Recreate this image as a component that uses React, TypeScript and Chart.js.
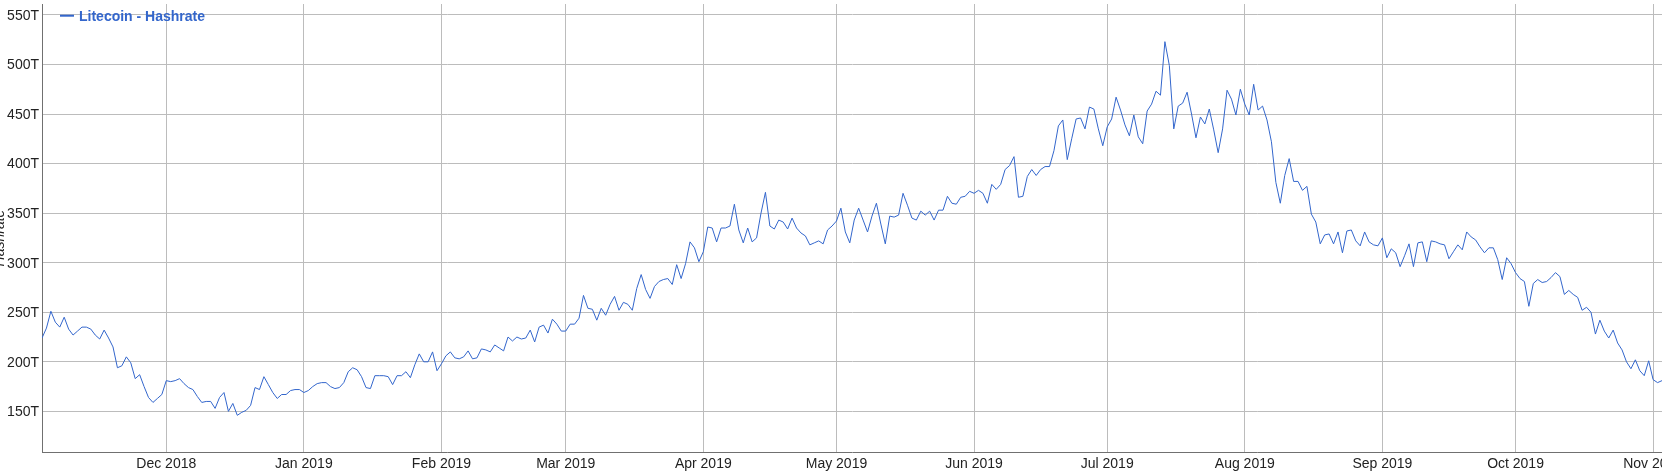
import { useEffect, useRef } from 'react';
import { Chart, registerables } from 'chart.js';

Chart.register(...registerables);

const seriesLabel = 'Litecoin - Hashrate';
const axisTitle = 'Hashrate';
const lineColor = '#3366cc';
const fontFamily = 'Arial, "Liberation Sans", sans-serif';

// one value per day (TH/s), starting at startDate
const startDate = '2018-11-03';
const hashrate = [
  224, 234, 251, 240, 235, 245, 233, 227, 231, 235, 235, 233, 227, 223, 232, 224, 215, 194, 196, 205,
  199, 183, 187, 175, 164, 159, 163, 167, 181, 180, 181, 183, 178, 174, 172, 165, 159, 160, 160, 153,
  164, 169, 150, 158, 146, 149, 151, 156, 174, 172, 185, 177, 169, 163, 167, 167, 171, 172, 172, 169,
  171, 175, 178, 179, 179, 175, 173, 174, 179, 190, 194, 192, 185, 174, 173, 186, 186, 186, 185, 177,
  186, 186, 190, 184, 197, 208, 200, 200, 210, 191, 198, 206, 210, 204, 203, 205, 211, 203, 204, 213,
  212, 210, 217, 214, 211, 225, 221, 225, 223, 224, 232, 220, 235, 237, 229, 243, 238, 231, 231, 238,
  238, 244, 267, 254, 253, 242, 254, 247, 258, 266, 252, 260, 258, 252, 274, 288, 273, 264, 276, 281,
  283, 284, 278, 298, 284, 299, 321, 315, 301, 311, 336, 335, 321, 335, 335, 337, 359, 333, 320, 335,
  321, 325, 350, 371, 337, 334, 343, 341, 334, 345, 335, 330, 327, 318, 320, 322, 319, 333, 337, 342,
  355, 331, 320, 343, 355, 343, 331, 347, 360, 339, 319, 347, 346, 348, 370, 358, 345, 343, 352, 348,
  352, 343, 353, 353, 367, 360, 359, 366, 367, 372, 370, 373, 370, 360, 379, 374, 379, 394, 398, 407,
  366, 367, 387, 394, 388, 394, 397, 397, 413, 438, 444, 404, 425, 445, 446, 435, 457, 455, 435, 418,
  437, 445, 467, 454, 439, 428, 449, 427, 420, 453, 460, 473, 469, 523, 499, 435, 458, 461, 472, 450,
  426, 447, 440, 455, 434, 411, 435, 474, 465, 449, 475, 460, 449, 480, 454, 458, 444, 422, 381, 360,
  388, 405, 382, 382, 373, 377, 349, 341, 319, 328, 329, 319, 331, 310, 332, 333, 322, 317, 331, 321,
  318, 317, 325, 305, 314, 310, 296, 307, 319, 296, 320, 321, 301, 322, 321, 319, 318, 304, 311, 318,
  313, 331, 326, 323, 316, 310, 315, 315, 303, 283, 305, 299, 290, 284, 281, 256, 279, 283, 280, 281,
  285, 290, 286, 268, 272, 268, 265, 252, 255, 250, 228, 242, 231, 224, 232, 219, 212, 200, 193, 202,
  191, 186, 201, 182, 179, 181,
];

const monthTickDates = [
  '2018-12-01', '2019-01-01', '2019-02-01', '2019-03-01', '2019-04-01', '2019-05-01',
  '2019-06-01', '2019-07-01', '2019-08-01', '2019-09-01', '2019-10-01', '2019-11-01',
];
const monthTickLabels = [
  'Dec 2018', 'Jan 2019', 'Feb 2019', 'Mar 2019', 'Apr 2019', 'May 2019',
  'Jun 2019', 'Jul 2019', 'Aug 2019', 'Sep 2019', 'Oct 2019', 'Nov 2019',
];
const valueTicks = [150, 200, 250, 300, 350, 400, 450, 500, 550];

const DAY_MS = 86400000;
const dayOffset = (iso: string) => (Date.parse(iso) - Date.parse(startDate)) / DAY_MS;

// legend + rotated axis title, both sit partly over the plot like the original
const overlayText = {
  id: 'overlayText',
  afterDraw(chart: Chart) {
    const { ctx, chartArea } = chart;
    ctx.save();
    ctx.strokeStyle = lineColor;
    ctx.lineWidth = 2;
    ctx.beginPath();
    ctx.moveTo(60, 15.7);
    ctx.lineTo(74, 15.7);
    ctx.stroke();
    ctx.fillStyle = lineColor;
    ctx.font = `bold 14px ${fontFamily}`;
    ctx.textAlign = 'left';
    ctx.textBaseline = 'alphabetic';
    ctx.fillText(seriesLabel, 79, 20.7);

    ctx.translate(3.5, (chartArea.top + chartArea.bottom) / 2 + 10);
    ctx.rotate(-Math.PI / 2);
    ctx.fillStyle = '#222';
    ctx.font = `italic 14px ${fontFamily}`;
    ctx.textAlign = 'center';
    ctx.fillText(axisTitle, 0, 0);
    ctx.restore();
  },
};

export default function App() {
  const canvasRef = useRef<HTMLCanvasElement>(null);

  useEffect(() => {
    if (!canvasRef.current) return;
    const tickDays = monthTickDates.map(dayOffset);

    const chart = new Chart(canvasRef.current, {
      type: 'line',
      data: {
        datasets: [
          {
            label: seriesLabel,
            data: hashrate.map((v, i) => ({ x: i, y: v })),
            borderColor: lineColor,
            borderWidth: 1,
            pointRadius: 0,
            tension: 0,
            fill: false,
          },
        ],
      },
      options: {
        animation: false,
        responsive: true,
        maintainAspectRatio: false,
        layout: { padding: { top: 4, left: 0, right: 0, bottom: 0 } },
        plugins: {
          legend: { display: false },
          tooltip: { enabled: false },
        },
        scales: {
          x: {
            type: 'linear',
            min: 0,
            max: hashrate.length - 1,
            grid: { color: '#bcbcbc', drawTicks: false },
            border: { color: '#707070', width: 1 },
            ticks: {
              autoSkip: false,
              maxRotation: 0,
              padding: 4,
              color: '#222',
              font: { family: fontFamily, size: 14 },
              callback: (value) => {
                const idx = tickDays.indexOf(Number(value));
                return idx >= 0 ? monthTickLabels[idx] : '';
              },
            },
            afterBuildTicks: (scale) => {
              scale.ticks = tickDays.map((v) => ({ value: v }));
            },
            afterFit: (scale) => {
              scale.height = 21;
              scale.paddingLeft = 0;
              scale.paddingRight = 0;
            },
          },
          y: {
            type: 'linear',
            min: 109,
            max: 561,
            grid: { color: '#bcbcbc', drawTicks: false },
            border: { color: '#707070', width: 1 },
            ticks: {
              padding: 3,
              labelOffset: 1,
              color: '#222',
              font: { family: fontFamily, size: 14 },
              callback: (value) => `${value}T`,
            },
            afterBuildTicks: (scale) => {
              scale.ticks = valueTicks.map((v) => ({ value: v }));
            },
            afterFit: (scale) => {
              scale.width = 42;
              scale.paddingTop = 0;
              scale.paddingBottom = 0;
            },
          },
        },
      },
      plugins: [overlayText],
    });

    return () => chart.destroy();
  }, []);

  return (
    <div
      style={{
        position: 'fixed',
        left: 0,
        top: 0,
        width: 1662,
        height: 473,
        background: '#fff',
      }}
    >
      <canvas ref={canvasRef} />
    </div>
  );
}
